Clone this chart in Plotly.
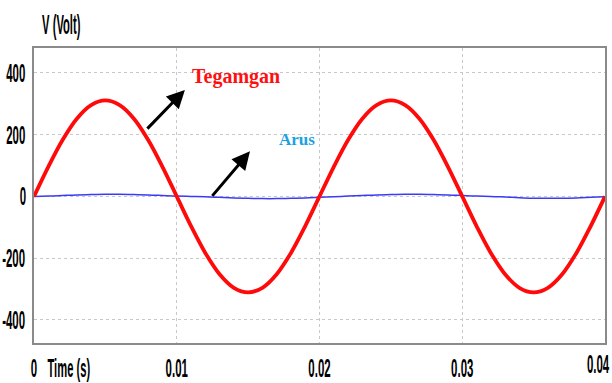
import plotly.graph_objects as go

# time samples (s)
time_s = [i / 1000 for i in range(41)]

# Tegangan (voltage), V
tegangan = [0, 96, 183, 252, 296, 311, 296, 252, 183, 96,
            0, -96, -183, -252, -296, -311, -296, -252, -183, -96,
            0, 96, 183, 252, 296, 311, 296, 252, 183, 96,
            0, -96, -183, -252, -296, -311, -296, -252, -183, -96, 0]

# Arus (current)
arus = [0, 1, 3, 5, 6, 7, 7, 6, 5, 3,
        1, 0, -1, -3, -5, -6, -7, -7, -6, -5,
        -3, -1, 1, 3, 5, 6, 7, 7, 6, 5,
        3, 1, 0, -2, -4, -6, -6, -6, -5, -3, -1]

x_ticks = [0, 0.01, 0.02, 0.03, 0.04]
x_ticklabels = ["0", "0.01", "0.02", "0.03", "0.04"]
y_ticks = [-400, -200, 0, 200, 400]
y_ticklabels = ["-400", "-200", "0", "200", "400"]

FONT = "Liberation Sans, Arial, sans-serif"
SERIF = "Liberation Serif, Times New Roman, serif"

fig = go.Figure()
fig.add_trace(go.Scatter(x=time_s, y=arus, mode="lines", line=dict(color="#3b3bf5", width=1.5, shape="spline"),
                         showlegend=False, hoverinfo="skip"))
fig.add_trace(go.Scatter(x=time_s, y=tegangan, mode="lines", line=dict(color="#ff0a0a", width=3.8, shape="spline"),
                         showlegend=False, hoverinfo="skip"))

grid = dict(showgrid=True, gridcolor="#c8c8c8", griddash="dot", gridwidth=1, zeroline=False)
tf = dict(family=FONT, size=13, color="black", weight="bold")
fig.update_xaxes(range=[0, 0.04], tickvals=x_ticks, ticktext=x_ticklabels, ticks="", automargin=False,
                 ticklabeloverflow="allow", ticklabelstandoff=12,
                 showline=True, linecolor="#8a8a8a", linewidth=1.5, mirror=True, tickfont=tf, **grid)
fig.update_yaxes(range=[-475, 481], tickvals=y_ticks, ticktext=y_ticklabels, ticks="", automargin=False,
                 ticklabelstandoff=3,
                 showline=True, linecolor="#8a8a8a", linewidth=1.5, mirror=True, tickfont=tf, **grid)

fig.add_annotation(xref="paper", yref="paper", x=0, y=1, xshift=27.5, yshift=24, text="V (Volt)",
                   showarrow=False, xanchor="center", yanchor="middle", font=tf)
fig.add_annotation(xref="paper", yref="paper", x=0, y=0, xshift=34.5, yshift=-25, text="Time (s)",
                   showarrow=False, xanchor="center", yanchor="middle", font=tf)
fig.add_annotation(x=0.01095, y=390, text="Tegamgan", showarrow=False, xanchor="left", yanchor="middle",
                   font=dict(family=SERIF, size=20, color="#ff1010", weight="bold"))
fig.add_annotation(x=0.01700, y=186, text="Arus", showarrow=False, xanchor="left", yanchor="middle",
                   font=dict(family=SERIF, size=17, color="#1ba1e2", weight="bold"))
# arrows
fig.add_annotation(x=0.01057, y=345, ax=0.00784, ay=215, axref="x", ayref="y", text="",
                   showarrow=True, arrowhead=2, arrowsize=1.2, arrowwidth=3, arrowcolor="black")
fig.add_annotation(x=0.01513, y=146, ax=0.0124, ay=-3, axref="x", ayref="y", text="",
                   showarrow=True, arrowhead=2, arrowsize=1.2, arrowwidth=3, arrowcolor="black")

fig.update_layout(width=612, height=383, margin=dict(l=34, r=7, t=48, b=40),
                  paper_bgcolor="white", plot_bgcolor="white")

# condensed / tall look of the original labels
post = """
var gd = document.getElementById('{plot_id}');
function sc(els, sx, sy){
  els.forEach(function(t){
    if (t.getAttribute('data-sc')) return;
    var b = t.getBBox(); var cx = b.x + b.width/2, cy = b.y + b.height/2;
    var tr = t.getAttribute('transform') || '';
    t.setAttribute('transform', tr + ' translate(' + cx + ',' + cy + ') scale(' + sx + ',' + sy + ') translate(' + (-cx) + ',' + (-cy) + ')');
    t.setAttribute('data-sc', '1');
  });
}
sc(Array.from(gd.querySelectorAll('.xtick text')), 0.88, 1.95);
sc(Array.from(gd.querySelectorAll('.ytick text')), 0.88, 2.0);
sc(Array.from(gd.querySelectorAll('.annotation-text')).filter(function(t){
  return t.textContent === 'V (Volt)';
}), 0.86, 2.1);
sc(Array.from(gd.querySelectorAll('.annotation-text')).filter(function(t){
  return t.textContent === 'Time (s)';
}), 0.86, 1.95);
Array.from(gd.querySelectorAll('.xtick text')).forEach(function(t){
  if (t.textContent === '0.04' && !t.getAttribute('data-mv')) {
    t.setAttribute('transform', 'translate(-7,-4) ' + (t.getAttribute('transform') || ''));
    t.setAttribute('data-mv', '1');
  }
});
"""
fig.write_html("out.html", post_script=post)
